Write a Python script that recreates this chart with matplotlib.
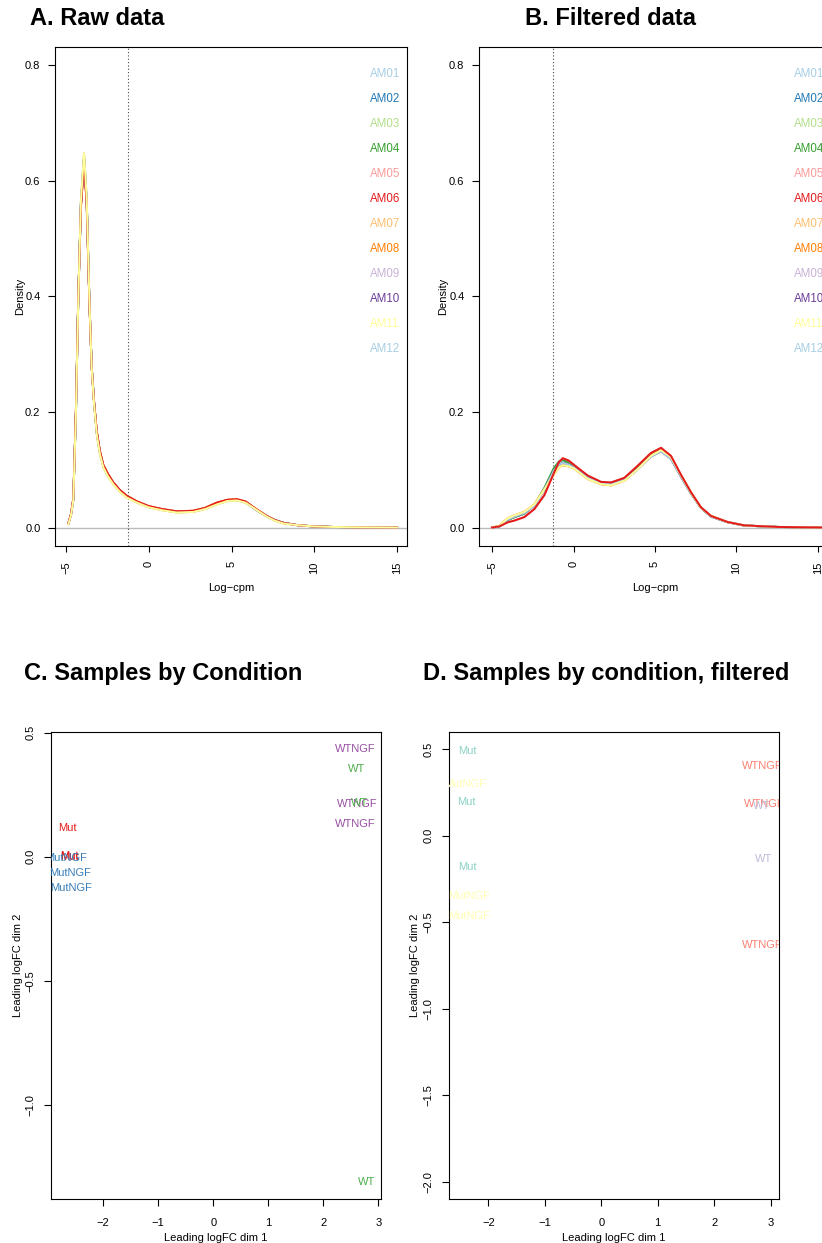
import numpy as np
import matplotlib
matplotlib.use("Agg")
import matplotlib.pyplot as plt

plt.rcParams['font.family'] = ['Liberation Sans', 'DejaVu Sans']
plt.rcParams['axes.linewidth'] = 0.8

# sample names and their colours (Paired palette, recycled after 11)
samples = ["AM01", "AM02", "AM03", "AM04", "AM05", "AM06",
           "AM07", "AM08", "AM09", "AM10", "AM11", "AM12"]
sample_cols = ["#A6CEE3", "#1F78B4", "#B2DF8A", "#33A02C", "#FB9A99", "#E31A1C",
               "#FDBF6F", "#FF7F00", "#CAB2D6", "#6A3D9A", "#FFFF99", "#A6CEE3"]

cutoff = -1.27

# log-cpm density, raw counts
raw_x = [-4.86, -4.70, -4.56, -4.40, -4.26, -4.10, -3.91, -3.75, -3.59, -3.45,
         -3.30, -3.14, -2.95, -2.74, -2.45, -2.14, -1.75, -1.33, -0.70, 0.0,
         0.80, 1.69, 2.68, 3.40, 4.11, 4.75, 5.32, 5.85, 6.33, 6.75,
         7.13, 7.60, 8.14, 9.00, 9.95, 11.0, 12.5, 15.0]
raw_purple = [0.007, 0.022, 0.048, 0.200, 0.395, 0.560, 0.640, 0.565, 0.395, 0.279,
              0.215, 0.164, 0.130, 0.106, 0.090, 0.077, 0.064, 0.054, 0.044, 0.036,
              0.031, 0.027, 0.028, 0.033, 0.041, 0.047, 0.048, 0.044, 0.034, 0.026,
              0.0196, 0.013, 0.008, 0.004, 0.002, 0.001, 0.0005, 0.0]
raw_red = [0.007, 0.023, 0.050, 0.205, 0.398, 0.555, 0.632, 0.560, 0.392, 0.278,
           0.216, 0.166, 0.132, 0.108, 0.092, 0.078, 0.065, 0.055, 0.045, 0.037,
           0.032, 0.028, 0.029, 0.034, 0.043, 0.048, 0.049, 0.045, 0.035, 0.027,
           0.020, 0.013, 0.008, 0.004, 0.002, 0.001, 0.0005, 0.0]
raw_yellow = [0.006, 0.021, 0.047, 0.198, 0.392, 0.565, 0.648, 0.570, 0.396, 0.277,
              0.212, 0.161, 0.127, 0.104, 0.088, 0.075, 0.062, 0.052, 0.043, 0.035,
              0.030, 0.026, 0.027, 0.032, 0.040, 0.046, 0.047, 0.043, 0.034, 0.026,
              0.019, 0.012, 0.007, 0.004, 0.002, 0.001, 0.0005, 0.0]
raw_curve = {"AM01": raw_purple, "AM02": raw_purple, "AM03": raw_yellow, "AM04": raw_purple,
             "AM05": raw_red, "AM06": raw_red, "AM07": raw_yellow, "AM08": raw_red,
             "AM09": raw_purple, "AM10": raw_purple, "AM11": raw_yellow, "AM12": raw_purple}

# log-cpm density after filtering low counts
filt_x = [-5.0, -4.55, -4.04, -3.63, -3.02, -2.40, -1.79, -1.21, -0.90, -0.66,
          -0.30, 0.05, 0.87, 1.69, 2.30, 3.12, 3.94, 4.75, 5.37, 5.98,
          6.60, 7.21, 7.82, 8.44, 9.46, 10.48, 12.5, 15.5]
filt_red = [0.0, 0.002, 0.009, 0.012, 0.018, 0.032, 0.056, 0.094, 0.113, 0.120,
            0.116, 0.108, 0.090, 0.079, 0.078, 0.086, 0.107, 0.129, 0.138, 0.124,
            0.091, 0.061, 0.035, 0.020, 0.0095, 0.0037, 0.001, 0.0]
filt_yellow = [0.0, 0.003, 0.016, 0.021, 0.027, 0.040, 0.066, 0.092, 0.104, 0.108,
               0.106, 0.102, 0.084, 0.075, 0.073, 0.081, 0.101, 0.124, 0.134, 0.122,
               0.090, 0.060, 0.034, 0.020, 0.0093, 0.0035, 0.001, 0.0]
filt_blue = [0.0, 0.002, 0.013, 0.018, 0.024, 0.039, 0.068, 0.102, 0.114, 0.117,
             0.112, 0.105, 0.087, 0.077, 0.075, 0.083, 0.103, 0.125, 0.134, 0.120,
             0.088, 0.059, 0.034, 0.019, 0.0092, 0.0034, 0.001, 0.0]
filt_purple = [0.0, 0.002, 0.014, 0.019, 0.025, 0.038, 0.065, 0.098, 0.109, 0.112,
               0.109, 0.103, 0.086, 0.077, 0.075, 0.082, 0.101, 0.123, 0.132, 0.119,
               0.088, 0.059, 0.034, 0.019, 0.0092, 0.0034, 0.001, 0.0]
filt_curve = {"AM01": filt_blue, "AM02": filt_blue, "AM03": filt_blue, "AM04": filt_blue,
              "AM05": filt_red, "AM06": filt_red, "AM07": filt_yellow, "AM08": filt_yellow,
              "AM09": filt_purple, "AM10": filt_purple, "AM11": filt_yellow, "AM12": filt_purple}

# which samples end up drawn on top of the overlapping curves
raw_on_top = ["AM06", "AM11"]
filt_on_top = ["AM11", "AM06"]

# MDS coordinates (dim 1, dim 2), all samples
mds_groups = ["WTNGF", "WT", "WTNGF", "WT", "WTNGF", "WT",
              "Mut", "Mut", "Mut", "MutNGF", "MutNGF", "MutNGF"]
mds_dim1 = [2.59, 2.60, 2.62, 2.66, 2.59, 2.79, -2.65, -2.62, -2.62, -2.68, -2.60, -2.58]
mds_dim2 = [0.434, 0.353, 0.212, 0.215, 0.132, -1.311, 0.118, 0.004, 0.0, -0.003, -0.067, -0.125]
set1 = {"Mut": "#E41A1C", "MutNGF": "#377EB8", "WT": "#4DAF4A", "WTNGF": "#984EA3"}

# MDS coordinates after filtering
mdsf_groups = ["Mut", "MutNGF", "Mut", "Mut", "MutNGF", "MutNGF",
               "WTNGF", "WTNGF", "WT", "WT", "WTNGF"]
mdsf_dim1 = [-2.37, -2.41, -2.40, -2.37, -2.35, -2.34, 2.85, 2.88, 2.85, 2.87, 2.85]
mdsf_dim2 = [0.491, 0.299, 0.193, -0.179, -0.351, -0.466, 0.401, 0.183, 0.173, -0.135, -0.630]
set3 = {"Mut": "#8DD3C7", "MutNGF": "#FFFFB3", "WT": "#BEBADA", "WTNGF": "#FB8072"}

W, H = 822, 1243
fig = plt.figure(figsize=(W / 100, H / 100), dpi=100)


def px_axes(left, top, right, bottom):
    return fig.add_axes([left / W, 1 - bottom / H, (right - left) / W, (bottom - top) / H])


def density_panel(ax, xs, curves, on_top, xlim, ylab_x):
    ax.axhline(0, color="#bbbbbb", lw=1.0, zorder=1)
    ax.axvline(cutoff, color="#444444", lw=0.8, ls=(0, (1, 2)), zorder=1)
    for name, col in zip(samples, sample_cols):
        z = 3 + on_top.index(name) if name in on_top else 2
        ax.plot(xs, curves[name], color=col, lw=1.4, label=name, zorder=z)
    ax.set_xlim(*xlim)
    ax.set_ylim(-0.032, 0.832)
    ax.set_xticks([-5, 0, 5, 10, 15])
    ax.set_yticks([0.0, 0.2, 0.4, 0.6, 0.8])
    ax.set_yticklabels(["0.0", "0.2", "0.4", "0.6", "0.8"])
    ax.tick_params(axis="x", labelrotation=90, length=4.5, width=0.8, pad=6.5, labelsize=8)
    ax.tick_params(axis="y", length=5, width=0.8, pad=5.5, labelsize=8)
    ax.set_xlabel("Log\u2212cpm", fontsize=8)
    ax.set_ylabel("Density", fontsize=8)
    ax.xaxis.set_label_coords(0.5, -0.074)
    ax.yaxis.set_label_coords(ylab_x, 0.5)
    leg = ax.legend(loc="upper right", bbox_to_anchor=(1 - 7 / 352, 1 - 21 / 499),
                    frameon=False, handlelength=0, handletextpad=0, borderpad=0,
                    borderaxespad=0, labelspacing=1.13, fontsize=8.3, labelcolor="linecolor")
    for h in leg.legend_handles:
        h.set_visible(False)


def mds_panel(ax, d1, d2, groups, cols, xlim, ylim, yticks, ylab_x):
    for x, y, g in zip(d1, d2, groups):
        ax.text(x, y, g, color=cols[g], ha="center", va="center", fontsize=8, clip_on=True)
    ax.set_xlim(*xlim)
    ax.set_ylim(*ylim)
    ax.set_xticks([-2, -1, 0, 1, 2, 3])
    ax.set_yticks(yticks)
    ax.set_yticklabels([f"{t:.1f}".replace("-", "\u2212") for t in yticks], rotation=90, va="center")
    ax.tick_params(axis="x", length=5, width=0.8, pad=9, labelsize=8)
    ax.tick_params(axis="y", length=5, width=0.8, pad=6, labelsize=8)
    ax.set_xlabel("Leading logFC dim 1", fontsize=8)
    ax.set_ylabel("Leading logFC dim 2", fontsize=8)
    ax.xaxis.set_label_coords(0.5, -0.072)
    ax.yaxis.set_label_coords(ylab_x, 0.5)


ax_a = px_axes(55, 47, 407, 546)
density_panel(ax_a, raw_x, raw_curve, raw_on_top, (-5.665, 15.6), -0.085)

ax_b = px_axes(479, 47, 831, 546)
density_panel(ax_b, filt_x, filt_curve, filt_on_top, (-5.8, 15.8), -0.088)

ax_c = px_axes(51, 732, 381, 1199)
mds_panel(ax_c, mds_dim1, mds_dim2, mds_groups, set1, (-2.95, 3.05), (-1.379, 0.503),
          [-1.0, -0.5, 0.0, 0.5], -0.085)

ax_d = px_axes(449, 732, 779, 1199)
mds_panel(ax_d, mdsf_dim1, mdsf_dim2, mdsf_groups, set3, (-2.70, 3.15), (-2.1, 0.6),
          [-2.0, -1.5, -1.0, -0.5, 0.0, 0.5], -0.088)

title_kw = dict(fontsize=17, fontweight="bold", va="baseline", ha="left")
fig.text(30 / W, 1 - 25 / H, "A. Raw data", **title_kw)
fig.text(525 / W, 1 - 25 / H, "B. Filtered data", **title_kw)
fig.text(24 / W, 1 - 680 / H, "C. Samples by Condition", **title_kw)
fig.text(423 / W, 1 - 680 / H, "D. Samples by condition, filtered", **title_kw)

fig.savefig("out.png", dpi=100)
